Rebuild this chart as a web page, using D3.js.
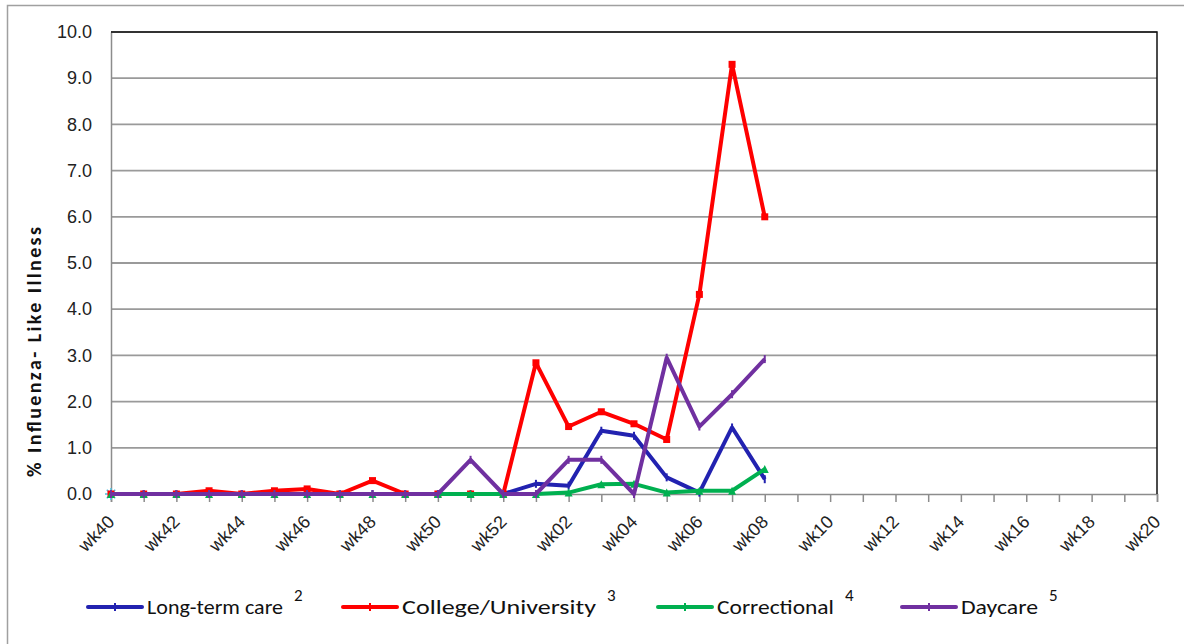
<!DOCTYPE html>
<html><head><meta charset="utf-8">
<script src="https://cdn.jsdelivr.net/npm/d3@7"></script>
<style>
body{margin:0;background:#fff;}
svg{display:block;font-family:Carlito, Lato, "Liberation Sans", sans-serif;}
</style></head>
<body><svg id="c" width="1184" height="644"></svg>
<script>
const weeks = ["wk40","wk41","wk42","wk43","wk44","wk45","wk46","wk47","wk48","wk49","wk50","wk51","wk52",
  "wk01","wk02","wk03","wk04","wk05","wk06","wk07","wk08","wk09","wk10","wk11","wk12","wk13","wk14","wk15","wk16","wk17","wk18","wk19","wk20"];
const tickLabels = ["wk40","wk42","wk44","wk46","wk48","wk50","wk52","wk02","wk04","wk06","wk08","wk10","wk12","wk14","wk16","wk18","wk20"];
const yTicks = [0,1,2,3,4,5,6,7,8,9,10];
const seriesNames = ["Long-term care","College/University","Correctional","Daycare"];
const seriesSup = ["2","3","4","5"];
const longTermCare = [0,0,0,0,0,0,0,0,0,0,0,0,0, 0.22,0.18,1.37,1.26,0.36,0.03,1.44,0.32];
const collegeUniversity = [0,0,0,0.07,0,0.07,0.11,0,0.29,0,0,0,0, 2.84,1.46,1.78,1.52,1.18,4.32,9.3,6.0];
const correctional = [0,0,0,0,0,0,0,0,0,0,0,0,0, 0,0.03,0.21,0.22,0.03,0.07,0.07,0.54];
const daycare = [0,0,0,0,0,0,0,0,0,0,0,0.74,0, 0,0.74,0.74,0,2.95,1.46,2.16,2.92];
const extraPoint = [0];
const colors = ["#2222b0","#ff0000","#00b050","#7030a0"];

const svg = d3.select("#c");
const L=111, R=1157, T=32, B=494;
const x = d3.scalePoint().domain(weeks).range([L,R]);
const y = d3.scaleLinear().domain([0,10]).range([B,T]);

// outer frame
svg.append("path").attr("d","M7.5,644 V5.5 H1184").attr("fill","none").attr("stroke","#a0a0a0").attr("stroke-width",1.5);

// gridlines
svg.append("g").selectAll("line").data(yTicks.slice(1)).join("line")
  .attr("x1",L).attr("x2",R).attr("y1",d=>y(d)).attr("y2",d=>y(d))
  .attr("stroke","#9a9a9a").attr("stroke-width",1.8);

// x axis
const xa = svg.append("g").attr("transform",`translate(0,${B})`)
  .call(d3.axisBottom(x).tickSize(8).tickFormat(d=>tickLabels.includes(d)?d:""));
xa.select(".domain").attr("stroke","#8c8c8c").attr("stroke-width",1.5);
xa.selectAll(".tick line").attr("stroke","#8c8c8c").attr("stroke-width",1.5);
xa.selectAll(".tick text").attr("font-size",18).attr("fill","#222")
  .attr("text-anchor","end").attr("x",0).attr("y",0).attr("dy",0)
  .attr("transform","translate(4,29) rotate(-45)");

// y axis
const ya = svg.append("g").attr("transform",`translate(${L},0)`)
  .call(d3.axisLeft(y).tickValues(yTicks).tickSize(0).tickPadding(19).tickFormat(d3.format(".1f")));
ya.select(".domain").attr("stroke","#8c8c8c").attr("stroke-width",1.5);
ya.selectAll(".tick text").attr("font-size",18).attr("fill","#222");

// plot frame top/right
svg.append("path").attr("d",`M${L},${T} H${R} V${B}`).attr("fill","none").attr("stroke","#111").attr("stroke-width",1.5);

// y title
svg.append("text").attr("transform","translate(41,352) rotate(-90)").attr("text-anchor","middle")
  .attr("font-size",20).attr("font-weight","bold").attr("fill","#111")
  .attr("textLength",250).attr("lengthAdjust","spacing").text("% Influenza- Like  Illness");

const series = [longTermCare, collegeUniversity, correctional, daycare];
const line = d3.line().x((d,i)=>x(weeks[i])).y(d=>y(d)).defined(d=>d!=null);

// extra cyan star at wk40
const sg = svg.append("g").attr("transform",`translate(${x(weeks[0])},${y(extraPoint[0])})`).attr("stroke","#4bc0e0").attr("stroke-width",1.5);
[0,45,90,135].forEach(a=>sg.append("line").attr("x1",-6).attr("x2",6).attr("transform",`rotate(${a})`));

series.forEach((s,k)=>{
  const g = svg.append("g");
  g.append("path").datum(s).attr("d",line).attr("fill","none").attr("stroke",colors[k])
    .attr("stroke-width",4).attr("stroke-linejoin","round");
  s.forEach((v,i)=>{
    const cx=x(weeks[i]), cy=y(v);
    if(k===1) g.append("rect").attr("x",cx-3.5).attr("y",cy-3.5).attr("width",7).attr("height",7).attr("fill",colors[k]);
    else if(k===2) g.append("path").attr("d",`M${cx},${cy-4}L${cx+4},${cy+4}L${cx-4},${cy+4}Z`).attr("fill",colors[k]);
    else g.append("rect").attr("x",cx-1).attr("y",cy-4).attr("width",2).attr("height",8).attr("fill",colors[k]);
  });
});

// legend
const legX = [88,343,658,902];
const legW = [136,194,117,77];
const lg = svg.append("g");
seriesNames.forEach((n,k)=>{
  const gx=legX[k], gy=607;
  lg.append("line").attr("x1",gx).attr("x2",gx+54).attr("y1",gy).attr("y2",gy).attr("stroke",colors[k]).attr("stroke-width",4).attr("stroke-linecap","round");
  lg.append("rect").attr("x",gx+26).attr("y",gy-4).attr("width",2).attr("height",8).attr("fill",colors[k]);
  lg.append("text").attr("x",gx+59).attr("y",gy+7).attr("font-size",21).attr("fill","#111")
    .attr("textLength",legW[k]).attr("lengthAdjust","spacingAndGlyphs").text(n);
  lg.append("text").attr("x",gx+59+legW[k]+11).attr("y",gy-6).attr("font-size",17).attr("fill","#111").text(seriesSup[k]);
});
</script></body></html>
